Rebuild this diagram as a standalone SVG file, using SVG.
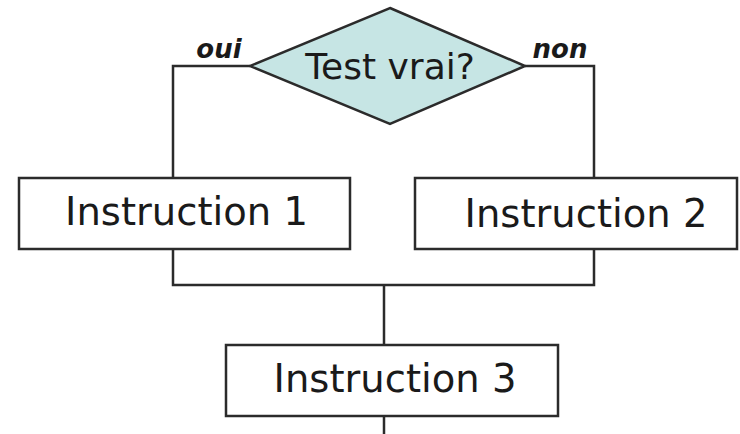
<svg xmlns="http://www.w3.org/2000/svg" width="740" height="434" viewBox="0 0 740 434">
<style>
.shape{stroke:#2b2b2b;stroke-width:2.5;stroke-linejoin:miter}
.box{fill:#ffffff}
.dia{fill:#c6e5e4}
.conn{fill:none;stroke:#2b2b2b;stroke-width:2.5}
.lbl{font-family:"DejaVu Sans",Verdana,sans-serif;fill:#1a1a1a}
.big{font-size:38.5px}
.yn{font-size:26px;font-weight:bold;font-style:italic}
</style>
<rect width="740" height="434" fill="#ffffff"/>
<g id="connectors">
<polyline class="conn" points="250,66 173,66 173,178"/>
<polyline class="conn" points="525,66 594,66 594,178"/>
<polyline class="conn" points="173,249 173,285 594,285 594,249"/>
<line class="conn" x1="384" y1="285" x2="384" y2="345"/>
<line class="conn" x1="384" y1="416" x2="384" y2="434"/>
<text class="lbl yn" x="219" y="58" text-anchor="middle">oui</text>
<text class="lbl yn" x="560" y="58" text-anchor="middle">non</text>
</g>
<g id="test">
<polygon class="shape dia" points="390,8 525,66 390,124 250,66"/>
<text class="lbl" x="390" y="79" font-size="36" text-anchor="middle">Test vrai?</text>
</g>
<g id="instr1">
<rect class="shape box" x="19" y="178" width="331" height="71"/>
<text class="lbl big" x="186.5" y="225" text-anchor="middle">Instruction 1</text>
</g>
<g id="instr2">
<rect class="shape box" x="415" y="178" width="322" height="71"/>
<text class="lbl big" x="586" y="227" text-anchor="middle">Instruction 2</text>
</g>
<g id="instr3">
<rect class="shape box" x="226" y="345" width="332" height="71"/>
<text class="lbl big" x="395" y="392" text-anchor="middle">Instruction 3</text>
</g>
</svg>
